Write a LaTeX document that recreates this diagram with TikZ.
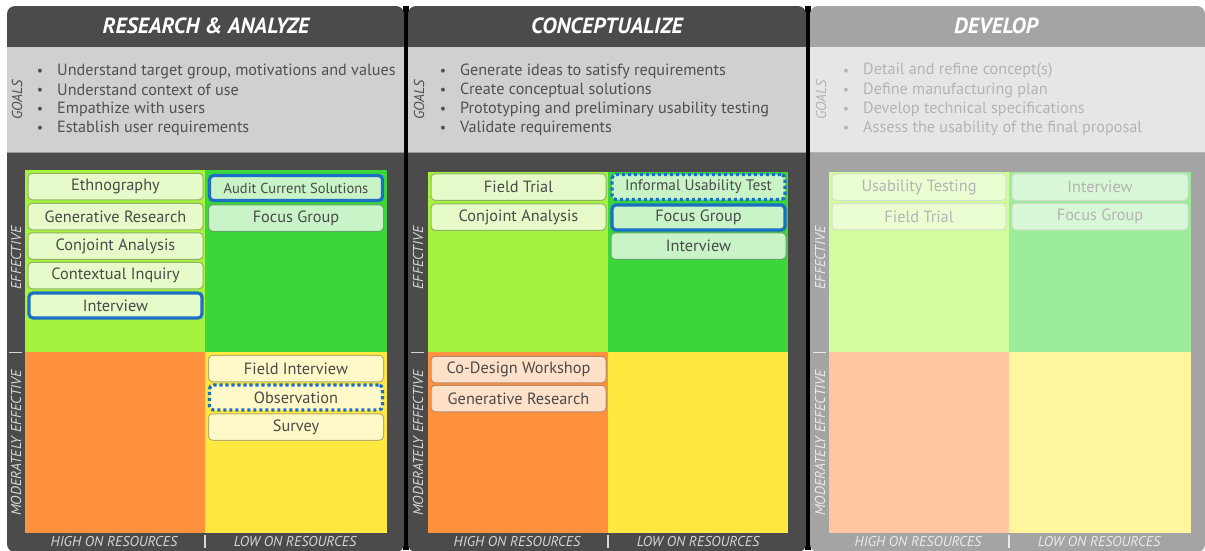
\documentclass[tikz,border=0pt]{standalone}
\usepackage{fontspec}
\setmainfont{PT Sans}
\definecolor{panelDark}{HTML}{4B4B4B}
\definecolor{panelLight}{HTML}{A4A4A4}
\definecolor{bandDark}{HTML}{D0D0D0}
\definecolor{bandLight}{HTML}{E6E6E6}
\definecolor{goalTxt}{HTML}{505050}
\definecolor{goalTxtLight}{HTML}{B4B4B4}
\definecolor{axisTxt}{HTML}{D6D6D6}
\definecolor{axisTxtLight}{HTML}{EAEAEA}
\definecolor{qLime}{HTML}{A5F23F}
\definecolor{qGreen}{HTML}{3AD63A}
\definecolor{qOrange}{HTML}{FF913F}
\definecolor{qYellow}{HTML}{FFE83F}
\definecolor{fLime}{HTML}{D1FD9C}
\definecolor{fGreen}{HTML}{9DEC9B}
\definecolor{fOrange}{HTML}{FFC7A0}
\definecolor{fYellow}{HTML}{FFF59E}
\definecolor{hiBlue}{HTML}{1B6FC6}
\definecolor{boxTxt}{HTML}{4A4A4A}
\begin{document}
\begin{tikzpicture}[x=1pt,y=-1pt,
  title/.style={text=white,font=\fontsize{22}{24}\selectfont\bfseries\itshape},
  goal/.style={anchor=west,inner sep=0pt,text=goalTxt,font=\fontsize{16.2}{18}\selectfont},
  bul/.style={inner sep=0pt,text=goalTxt,font=\fontsize{14}{16}\selectfont},
  side/.style={rotate=90,inner sep=0pt,text=axisTxt,font=\fontsize{14.3}{16}\selectfont\itshape},
  bottomlbl/.style={inner sep=0pt,text=axisTxt,font=\fontsize{14.2}{16}\selectfont\itshape},
  mbox/.style={rounded corners=4pt,line width=1pt,minimum height=26.5pt,inner sep=0pt,
    text=boxTxt,font=\fontsize{16.3}{18}\selectfont},
  lbox/.style={mbox,fill=#1!28!white,draw=#1!60!black!70!white},
  hisolid/.style={draw=hiBlue,line width=3.2pt},
  hidot/.style={draw=hiBlue,line width=3.2pt,dash pattern=on 3.2pt off 2.8pt},
  fbox/.style={mbox,fill=#1,draw=#1!80!black!60!white,text=goalTxtLight}
]
\useasboundingbox (0,0) rectangle (1205,550);
\fill[white] (0,0) rectangle (1205,550);

% separators between the three phases
\fill[black] (403,6) rectangle (409,550);
\fill[black] (805,6) rectangle (811,550);

% ---------- phase panels ----------
\fill[panelDark,rounded corners=8pt] (7,6) rectangle (404,552);
\fill[panelDark,rounded corners=8pt] (408,6) rectangle (806,552);
\fill[panelLight,rounded corners=8pt] (810,6) rectangle (1205,552);

% goals bands
\fill[bandDark] (7,47) rectangle (404,152);
\fill[bandDark] (408,47) rectangle (806,152);
\fill[bandLight] (810,47) rectangle (1205,152);
\draw[gray!80,line width=0.8pt] (7,152) -- (404,152) (408,152) -- (806,152);
\draw[gray!60,line width=0.8pt] (810,152) -- (1205,152);

% titles
\node[title] (t1) at (206,26) {RESEARCH \& ANALYZE};
\node[title] (t2) at (607,26) {CONCEPTUALIZE};
\node[title] (t3) at (996,26) {DEVELOP};

% goals
\node[side,text=goalTxt] (gl1) at (17,100) {GOALS};
\node[side,text=goalTxt] (gl2) at (419,100) {GOALS};
\node[side,text=goalTxtLight] (gl3) at (821,100) {GOALS};
\foreach \t [count=\i] in {{Understand target group, motivations and values},
  {Understand context of use},{Empathize with users},{Establish user requirements}}{
  \node[bul] (b1-\i) at (40,53+19*\i) {\textbullet};
  \node[goal] (g1-\i) at (57,52+19*\i) {\t};
}
\foreach \t [count=\i] in {{Generate ideas to satisfy requirements},
  {Create conceptual solutions},{Prototyping and preliminary usability testing},{Validate requirements}}{
  \node[bul] (b2-\i) at (443,53+19*\i) {\textbullet};
  \node[goal] (g2-\i) at (460,52+19*\i) {\t};
}
\foreach \t [count=\i] in {{Detail and refine concept(s)},
  {Define manufacturing plan},{Develop technical specifications},{Assess the usability of the final proposal}}{
  \node[bul,text=goalTxtLight] (b3-\i) at (846,53+19*\i) {\textbullet};
  \node[goal,text=goalTxtLight] (g3-\i) at (863,52+19*\i) {\t};
}

% ---------- quadrants ----------
% research & analyze
\fill[qLime]   (25,170) rectangle (205,352);
\fill[qGreen]  (205,170) rectangle (387,352);
\fill[qOrange] (25,352) rectangle (205,533);
\fill[qYellow] (205,352) rectangle (387,533);
% conceptualize
\fill[qLime]   (428,172) rectangle (608,352);
\fill[qGreen]  (608,172) rectangle (788,352);
\fill[qOrange] (428,352) rectangle (608,533);
\fill[qYellow] (608,352) rectangle (788,533);
% develop
\fill[fLime]   (829,172) rectangle (1009,352);
\fill[fGreen]  (1009,172) rectangle (1191,352);
\fill[fOrange] (829,352) rectangle (1009,533);
\fill[fYellow] (1009,352) rectangle (1191,533);

% axis labels
\foreach \x/\c in {16/axisTxt,418/axisTxt,820/axisTxtLight}{
  \node[side,text=\c] at (\x,258) {EFFECTIVE};
  \node[side,text=\c] at (\x,443) {MODERATELY EFFECTIVE};
  \draw[\c,line width=1pt] (\x-7,352) -- (\x+6,352);
}
\foreach \x/\c in {0/axisTxt,403/axisTxt,804/axisTxtLight}{
  \node[bottomlbl,text=\c] at (\x+114,542) {HIGH ON RESOURCES};
  \node[bottomlbl,text=\c] at (\x+295,542) {LOW ON RESOURCES};
  \draw[\c,line width=1.2pt] (\x+205,535) -- (\x+205,548);
}

% ---------- method boxes: research & analyze ----------
\node[lbox=qLime,minimum width=175pt] (ethno) at (115.5,186.5) {Ethnography};
\node[lbox=qLime,minimum width=175pt] (genres1) at (115.5,216.5) {Generative Research};
\node[lbox=qLime,minimum width=175pt] (conj1) at (115.5,246) {Conjoint Analysis};
\node[lbox=qLime,minimum width=175pt] (context) at (115.5,275.5) {Contextual Inquiry};
\node[lbox=qLime,hisolid,minimum width=173pt,minimum height=25pt] (interv1) at (115.5,305.5) {Interview};
\node[lbox=qGreen,hisolid,minimum width=173pt,minimum height=25pt,font=\fontsize{14.5}{17}\selectfont] (audit) at (296,188) {Audit Current Solutions};
\node[lbox=qGreen,minimum width=175pt] (focus1) at (296,218) {Focus Group};
\node[lbox=qYellow,minimum width=175pt] (fieldint) at (296,368.5) {Field Interview};
\node[lbox=qYellow,hidot,minimum width=173pt,minimum height=25pt] (observ) at (296,397.5) {Observation};
\node[lbox=qYellow,minimum width=175pt] (survey) at (296,427) {Survey};

% ---------- method boxes: conceptualize ----------
\node[lbox=qLime,minimum width=175pt] (ftrial2) at (518.5,187) {Field Trial};
\node[lbox=qLime,minimum width=175pt] (conj2) at (518.5,217) {Conjoint Analysis};
\node[lbox=qGreen,hidot,minimum width=173pt,minimum height=25pt,font=\fontsize{15.3}{17}\selectfont] (informal) at (698.5,187) {Informal Usability Test};
\node[lbox=qGreen,hisolid,minimum width=173pt,minimum height=25pt] (focus2) at (698.5,217.5) {Focus Group};
\node[lbox=qGreen,minimum width=175pt] (interv2) at (698.5,246) {Interview};
\node[lbox=qOrange,minimum width=175pt] (codesign) at (518.5,369.5) {Co-Design Workshop};
\node[lbox=qOrange,minimum width=175pt] (genres2) at (518.5,398.5) {Generative Research};

% ---------- method boxes: develop ----------
\node[fbox=fLime!45!white,minimum width=174pt] (usab) at (919,187) {Usability Testing};
\node[fbox=fLime!45!white,minimum width=174pt] (ftrial3) at (919,216.5) {Field Trial};
\node[fbox=fGreen!40!white,minimum width=176pt] (interv3) at (1100,187) {Interview};
\node[fbox=fGreen!40!white,minimum width=176pt] (focus3) at (1100,216.5) {Focus Group};
\end{tikzpicture}
\end{document}
